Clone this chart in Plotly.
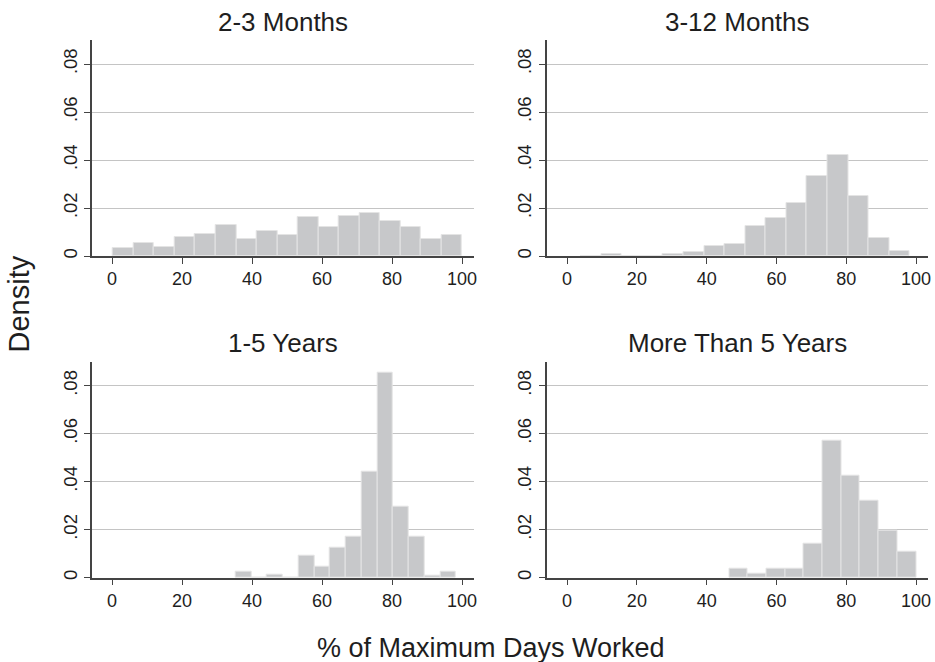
import plotly.graph_objects as go

# ---- data ----
panel_titles = ["2-3 Months", "3-12 Months", "1-5 Years", "More Than 5 Years"]

# histogram bins: first bin's left edge, bin width, density per bin
start_2_3m = 0.3
width_2_3m = 5.865
dens_2_3m = [0.0032, 0.0055, 0.0038, 0.0081, 0.0092, 0.0130, 0.0070, 0.0103, 0.0087,
             0.0162, 0.0119, 0.0166, 0.0179, 0.0145, 0.0119, 0.0070, 0.0087]

start_3_12m = 3.9
width_3_12m = 5.894
dens_3_12m = [0.0, 0.0008, 0.0, 0.0, 0.0007, 0.0017, 0.0042, 0.0049, 0.0124,
              0.0159, 0.0222, 0.0334, 0.0422, 0.0252, 0.0077, 0.0022]

start_1_5y = 35.3
width_1_5y = 4.5
dens_1_5y = [0.0025, 0.0, 0.0012, 0.0, 0.0092, 0.0046, 0.0126, 0.0171, 0.0440,
             0.0856, 0.0294, 0.0171, 0.0010, 0.0025]

start_5y = 46.4
width_5y = 5.36
dens_5y = [0.0036, 0.0015, 0.0036, 0.0036, 0.0143, 0.0569, 0.0426, 0.0321, 0.0194, 0.0108]

x_tickvals = [0, 20, 40, 60, 80, 100]
y_tickvals = [0, 0.02, 0.04, 0.06, 0.08]
y_ticktext = ["0", ".02", ".04", ".06", ".08"]

x_title = "% of Maximum Days Worked"
y_title = "Density"

# ---- figure ----
W, H = 935, 662
FONT = "Liberation Sans, Arial, Helvetica, sans-serif"
TXT = "#1e1e1e"
AX = "#444444"
GRID = "#c4c4c4"
BAR = "#c7c8ca"
BAR_EDGE = "#e4e4e4"

panels = [
    (start_2_3m, width_2_3m, dens_2_3m),
    (start_3_12m, width_3_12m, dens_3_12m),
    (start_1_5y, width_1_5y, dens_1_5y),
    (start_5y, width_5y, dens_5y),
]

# plot-area pixel boxes (left, right, top, bottom)
boxes = [
    (91.7, 474.0, 40.0, 256.0),
    (546.5, 928.3, 40.0, 256.0),
    (91.7, 474.0, 361.7, 577.7),
    (546.5, 928.3, 361.7, 577.7),
]
xranges = [[-5.8, 103.4], [-5.9, 103.5], [-5.8, 103.4], [-5.9, 103.5]]

fig = go.Figure()
layout = dict(
    width=W, height=H,
    margin=dict(l=0, r=0, t=0, b=0, autoexpand=False),
    paper_bgcolor="white", plot_bgcolor="white",
    showlegend=False,
    font=dict(family=FONT, color=TXT),
    bargap=0,
)

annotations = []
for i, ((st, wd, dens), (l, r, t, b), xr) in enumerate(zip(panels, boxes, xranges)):
    n = i + 1
    xa = "x" if n == 1 else f"x{n}"
    ya = "y" if n == 1 else f"y{n}"
    centers = [st + wd * (k + 0.5) for k in range(len(dens))]
    fig.add_trace(go.Bar(
        x=centers, y=dens, width=[wd] * len(dens),
        marker=dict(color=BAR, line=dict(color=BAR_EDGE, width=1)),
        xaxis=xa, yaxis=ya, hoverinfo="x+y",
    ))
    xkey = "xaxis" if n == 1 else f"xaxis{n}"
    ykey = "yaxis" if n == 1 else f"yaxis{n}"
    layout[xkey] = dict(
        domain=[l / W, r / W], anchor=ya, range=xr, automargin=False,
        tickvals=x_tickvals, ticks="outside", ticklen=6, tickwidth=1.2, tickcolor=AX,
        showline=True, linecolor=AX, linewidth=1.5,
        showgrid=False, zeroline=False,
        tickfont=dict(size=18, color=TXT, family=FONT),
    )
    layout[ykey] = dict(
        domain=[1 - b / H, 1 - t / H], anchor=xa, range=[0, 0.09], automargin=False,
        tickvals=y_tickvals, ticktext=y_ticktext, tickangle=-90,
        ticks="outside", ticklen=6, tickwidth=1.2, tickcolor=AX,
        showline=True, linecolor=AX, linewidth=1.5,
        showgrid=True, gridcolor=GRID, gridwidth=1.3, zeroline=False,
        tickfont=dict(size=18.5, color=TXT, family=FONT),
    )
    annotations.append(dict(
        text=panel_titles[i], xref="paper", yref="paper",
        x=(l + r) / 2 / W, y=1 - (t - 18.5) / H,
        xanchor="center", yanchor="middle", showarrow=False,
        font=dict(size=26, color=TXT, family=FONT),
    ))

annotations.append(dict(
    text=x_title, xref="paper", yref="paper",
    x=491.5 / W, y=1 - 647.5 / H, xanchor="center", yanchor="middle",
    showarrow=False, font=dict(size=27, color=TXT, family=FONT),
))
annotations.append(dict(
    text=y_title, xref="paper", yref="paper",
    x=18.5 / W, y=1 - 304 / H, xanchor="center", yanchor="middle",
    textangle=-90, showarrow=False, font=dict(size=29, color=TXT, family=FONT),
))
layout["annotations"] = annotations

fig.update_layout(**layout)
fig.write_html("out.html", config={"displayModeBar": False},
               post_script="document.body.style.margin='0';document.body.style.overflow='hidden';")
